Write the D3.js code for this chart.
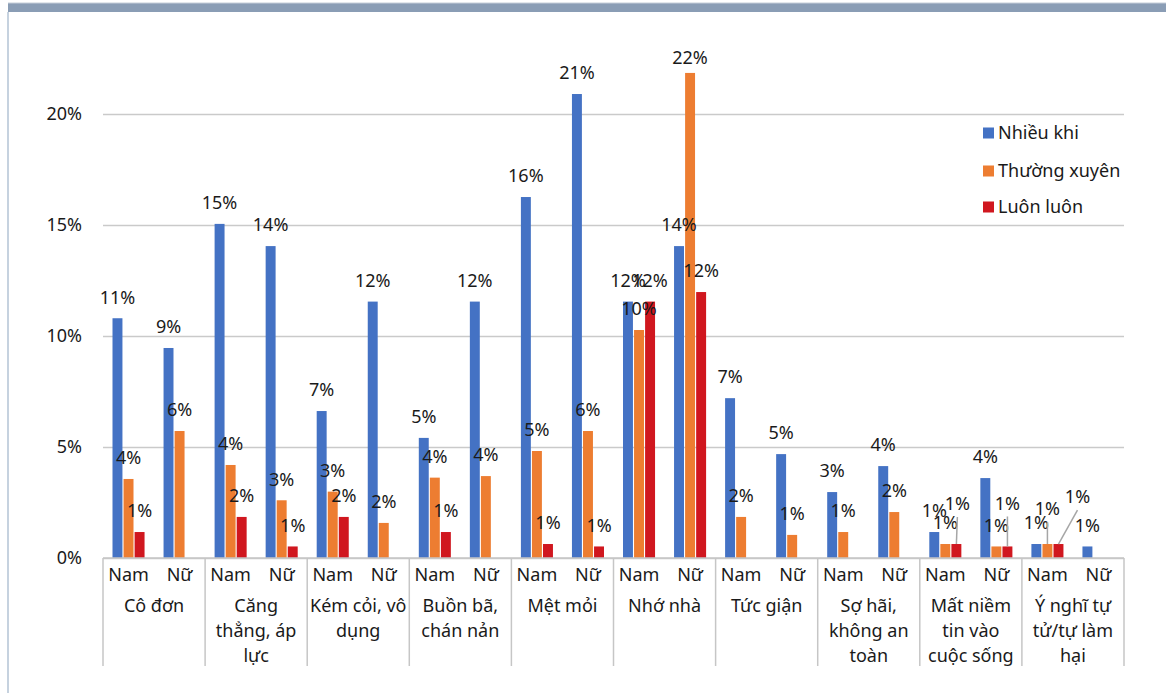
<!DOCTYPE html>
<html>
<head>
<meta charset="utf-8">
<script src="https://cdn.jsdelivr.net/npm/d3@7"></script>
<style>
  body { margin: 0; background: #fff; }
  svg { display: block; font-family: "Noto Sans", "Open Sans", sans-serif; }
</style>
</head>
<body>
<svg id="chart" width="1166" height="695"></svg>
<script>
// categories (lines as wrapped in the original)
const categories = [
  ["Cô đơn"],
  ["Căng", "thẳng, áp", "lực"],
  ["Kém cỏi, vô", "dụng"],
  ["Buồn bã,", "chán nản"],
  ["Mệt mỏi"],
  ["Nhớ nhà"],
  ["Tức giận"],
  ["Sợ hãi,", "không an", "toàn"],
  ["Mất niềm", "tin vào", "cuộc sống"],
  ["Ý nghĩ tự", "tử/tự làm", "hại"]
]
const genders = ["Nam", "Nữ"]
const seriesNames = ["Nhiều khi", "Thường xuyên", "Luôn luôn"]

// values in %, order: Nam, Nữ for each category (null = no bar)
const nhieuKhi    = [10.8, 9.46, 15.05, 14.05, 6.62, 11.55, 5.41, 11.55, 16.26, 20.9, 11.55, 14.05, 7.2, 4.68, 2.97, 4.14, 1.17, 3.6, 0.63, 0.52]
const thuongXuyen = [3.56, 5.72, 4.19, 2.6, 2.99, 1.58, 3.62, 3.69, 4.82, 5.72, 10.27, 21.85, 1.85, 1.04, 1.17, 2.07, 0.63, 0.52, 0.63, null]
const luonLuon    = [1.17, null, 1.85, 0.52, 1.85, null, 1.17, null, 0.63, 0.52, 11.55, 11.98, null, null, null, null, 0.63, 0.52, 0.63, null]

const yTicks = [0, 5, 10, 15, 20]
const colors = ["#4472c4", "#ed7d31", "#d0171f"]

const catKeys = categories.map(c => c.join(" "))
const seriesValues = [nhieuKhi, thuongXuyen, luonLuon]

// moved labels (Excel style, with leader lines)
const labelMoves = {
  "16-2": {dx: 1, dy: -19, leader: true},
  "17-2": {dx: 0, dy: -22, leader: true},
  "18-1": {dx: 0, dy: -14, leader: true},
  "18-2": {dx: 19, dy: -26, leader: true},
  "11-1": {dx: 0, dy: 6}
}

const svg = d3.select("#chart")
const plotLeft = 103, plotRight = 1124, plotTop = 114, plotBottom = 558
const fs = 18

// frame
svg.append("rect").attr("x", 8).attr("y", 3).attr("width", 1158).attr("height", 9).attr("fill", "#8a9db5")
svg.append("line").attr("x1", 8).attr("x2", 1166).attr("y1", 3).attr("y2", 3).attr("stroke", "#c5ced9")
svg.append("line").attr("x1", 8).attr("x2", 8).attr("y1", 12).attr("y2", 693).attr("stroke", "#b3c3d5").attr("stroke-width", 1.5)

const y = d3.scaleLinear().domain([0, 20]).range([plotBottom, plotTop])
const x0 = d3.scaleBand().domain(catKeys).range([plotLeft, plotRight])
const x1 = d3.scaleBand().domain(genders).range([0, x0.bandwidth()])
const x2 = d3.scaleBand().domain(seriesNames)
  .range([9.5, x1.bandwidth() - 9.5]).paddingInner(0.1)

// y axis + gridlines
const yAxis = svg.append("g")
  .attr("transform", `translate(${plotLeft},0)`)
  .call(d3.axisLeft(y).tickValues(yTicks).tickFormat(d => d + "%")
    .tickSize(-(plotRight - plotLeft)).tickPadding(21))
yAxis.select(".domain").remove()
yAxis.selectAll(".tick line").attr("stroke", "#cacaca").attr("stroke-width", 1.4)
yAxis.selectAll(".tick text").attr("font-size", fs).attr("fill", "#1a1a1a")
  .attr("font-family", "Noto Sans")

// flat list of bars
const bars = []
catKeys.forEach((c, ci) => {
  genders.forEach((g, gi) => {
    const idx = ci * 2 + gi
    seriesNames.forEach((s, si) => {
      const v = seriesValues[si][idx]
      if (v != null) bars.push({c, g, s, si, v, key: idx + "-" + si})
    })
  })
})
const bx = d => x0(d.c) + x1(d.g) + x2(d.s)

svg.append("g").selectAll("rect")
  .data(bars)
  .join("rect")
  .attr("x", bx)
  .attr("width", x2.bandwidth())
  .attr("y", d => y(d.v))
  .attr("height", d => plotBottom - y(d.v))
  .attr("fill", d => colors[d.si])

// x axis line and category separators
const xa = svg.append("g").attr("stroke", "#c6c6c6").attr("stroke-width", 1.5)
xa.append("line").attr("x1", plotLeft).attr("x2", plotRight).attr("y1", plotBottom).attr("y2", plotBottom)
xa.selectAll("line.sep")
  .data(catKeys.map(c => x0(c)).concat([plotRight]))
  .join("line").attr("class", "sep")
  .attr("x1", d => d).attr("x2", d => d)
  .attr("y1", plotBottom).attr("y2", 666)

// gender labels
const gl = svg.append("g").attr("font-size", fs).attr("fill", "#1a1a1a").attr("text-anchor", "middle")
catKeys.forEach(c => {
  genders.forEach(g => {
    gl.append("text")
      .attr("x", x0(c) + x1(g) + x1.bandwidth() / 2)
      .attr("y", 575).attr("dy", "0.35em")
      .text(g)
  })
})
// category labels
categories.forEach((lines, ci) => {
  lines.forEach((t, li) => {
    gl.append("text")
      .attr("x", x0(catKeys[ci]) + x0.bandwidth() / 2)
      .attr("y", 606 + li * 25).attr("dy", "0.35em")
      .text(t)
  })
})

// data labels
const lab = svg.append("g").attr("font-size", fs).attr("fill", "#1a1a1a").attr("text-anchor", "middle")
bars.forEach(d => {
  const m = labelMoves[d.key] || {dx: 0, dy: 0}
  const cx = bx(d) + x2.bandwidth() / 2
  const lx = cx + m.dx
  const ly = y(d.v) - 21 + m.dy
  if (m.leader) {
    lab.append("line")
      .attr("x1", lx).attr("y1", ly + 13)
      .attr("x2", cx).attr("y2", y(d.v))
      .attr("stroke", "#a6a6a6").attr("stroke-width", 1.5)
  }
  lab.append("text").attr("x", lx).attr("y", ly).attr("dy", "0.35em")
    .text(Math.round(d.v) + "%")
})

// legend
const leg = svg.append("g").attr("font-size", fs).attr("fill", "#1a1a1a")
seriesNames.forEach((s, i) => {
  const ly = [133, 171, 207][i]
  leg.append("rect").attr("x", 983).attr("y", ly - 5.5).attr("width", 11).attr("height", 11).attr("fill", colors[i])
  leg.append("text").attr("x", 998).attr("y", ly).attr("dy", "0.35em").text(s)
})
</script>
</body>
</html>
